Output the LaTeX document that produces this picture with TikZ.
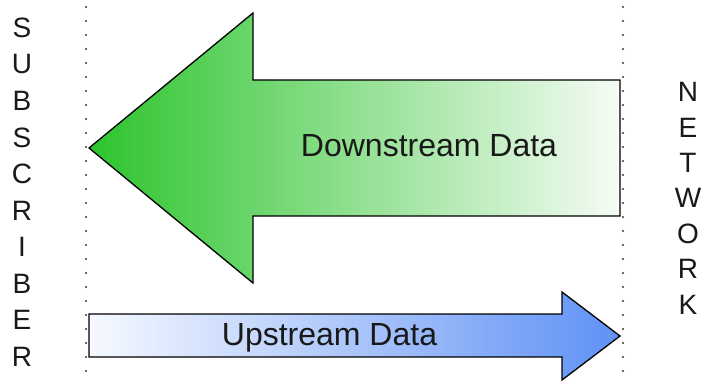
\documentclass[tikz,border=0pt]{standalone}
\usepackage{fontspec}
\setmainfont{Liberation Sans}
\definecolor{greenL}{RGB}{45,196,45}
\definecolor{greenR}{RGB}{245,252,245}
\definecolor{blueL}{RGB}{246,249,255}
\definecolor{blueR}{RGB}{95,145,245}
\definecolor{ink}{RGB}{25,25,25}
\definecolor{dotc}{RGB}{55,55,55}
\tikzset{
  bigarrow/.style={draw=black, line width=1.3pt, line join=miter},
  lbl/.style={font=\fontsize{32}{36}\selectfont, text=ink, inner sep=0pt, anchor=base},
  sidelet/.style={font=\fontsize{28}{30}\selectfont, text=ink, inner sep=0pt, anchor=center},
  border/.style={dotc, line width=2.2pt, line cap=round, dash pattern=on 0pt off 14pt}
}
\begin{document}
\begin{tikzpicture}[x=1pt, y=-1pt]
  \useasboundingbox (0,0) rectangle (703,382);
  \fill[white] (0,0) rectangle (703,382);

  % boundary lines
  \coordinate (lt) at (86,7);
  \coordinate (lb) at (86,380);
  \coordinate (rt) at (623,7);
  \coordinate (rb) at (623,380);
  \draw[border] (lt) -- (lb);
  \draw[border] (rt) -- (rb);

  % downstream arrow
  \draw[bigarrow, left color=greenL, right color=greenR]
    (620,80) -- (253,80) -- (253,13) -- (89,148) -- (253,283)
    -- (253,216) -- (620,216) -- cycle;
  \node[lbl] (down) at (429,157) {Downstream Data};

  % upstream arrow
  \draw[bigarrow, left color=blueL, right color=blueR]
    (89,314) -- (562,314) -- (562,292) -- (620,336) -- (562,380)
    -- (562,357) -- (89,357) -- cycle;
  \node[lbl] (up) at (329.5,345) {Upstream Data};

  % side labels
  \foreach \c [count=\i from 0] in {S,U,B,S,C,R,I,B,E,R}
    \node[sidelet] (sub\i) at (22,28+36.5*\i) {\c};
  \foreach \c [count=\i from 0] in {N,E,T,W,O,R,K}
    \node[sidelet] (net\i) at (688,92+35.4*\i) {\c};
\end{tikzpicture}
\end{document}
